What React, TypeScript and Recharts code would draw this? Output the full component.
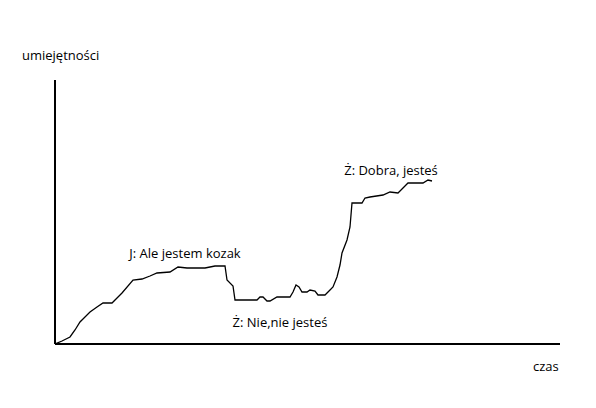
import { LineChart, Line, XAxis, YAxis, ReferenceDot, ReferenceLine } from "recharts"

// time (x) and skill (y)
const czas = [
  0, 7, 15, 20, 25, 35, 42, 48, 57, 67, 78, 87, 95, 102, 115, 123, 132, 150, 160, 170,
  172, 178, 180, 202, 205, 208, 212, 215, 222, 235, 238, 241, 244, 247, 252, 255, 260, 263, 270, 275,
  278, 282, 285, 287, 292, 295, 297, 307, 310, 315, 328, 335, 343, 348, 353, 368, 373, 377,
]
const umiejetnosci = [
  0, 3, 7, 14, 22, 32, 37, 41, 41, 51, 64, 65, 68, 71, 72, 77, 76, 76, 78, 78,
  64, 58, 44, 44, 47, 47, 43, 43, 47, 47, 52, 59, 57, 52, 52, 54, 53, 49, 49, 54,
  57, 67, 79, 91, 104, 117, 141, 141, 146, 147, 149, 152, 151, 156, 161, 161, 164, 163,
]

const notes = ["J: Ale jestem kozak", "Ż: Nie,nie jesteś", "Ż: Dobra, jesteś"]
const noteX = [130, 225, 336]
const noteY = [91, 22, 174]

const data = czas.map((t, i) => ({ t, s: umiejetnosci[i] }))

const font = "'Open Sans', 'Noto Sans', sans-serif"
const textStyle = { fontFamily: font, fontSize: 13, fill: "#000" }

export default function App() {
  return (
    <div
      style={{
        position: "absolute",
        left: 0,
        top: 0,
        width: 596,
        height: 408,
        background: "#fff",
        fontFamily: font,
      }}
    >
      <LineChart
        width={596}
        height={408}
        data={data}
        margin={{ top: 80, right: 36, bottom: 64, left: 55 }}
      >
        <XAxis type="number" dataKey="t" domain={[0, 505]} hide allowDataOverflow />
        <YAxis type="number" domain={[0, 264]} hide allowDataOverflow />
        <ReferenceLine x={0} stroke="#000" strokeWidth={2} />
        <ReferenceLine y={0} stroke="#000" strokeWidth={2} />
        <Line
          dataKey="s"
          type="linear"
          stroke="#000"
          strokeWidth={1.3}
          dot={false}
          isAnimationActive={false}
        />
        {notes.map((n, i) => (
          <ReferenceDot
            key={n}
            x={noteX[i]}
            y={noteY[i]}
            r={0}
            stroke="none"
            fill="none"
            label={{ value: n, position: "center", style: textStyle }}
          />
        ))}
      </LineChart>
      <div style={{ position: "absolute", left: 22, top: 46, fontSize: 13, color: "#000" }}>
        umiejętności
      </div>
      <div style={{ position: "absolute", left: 533, top: 357, fontSize: 13, color: "#000" }}>
        czas
      </div>
    </div>
  )
}
